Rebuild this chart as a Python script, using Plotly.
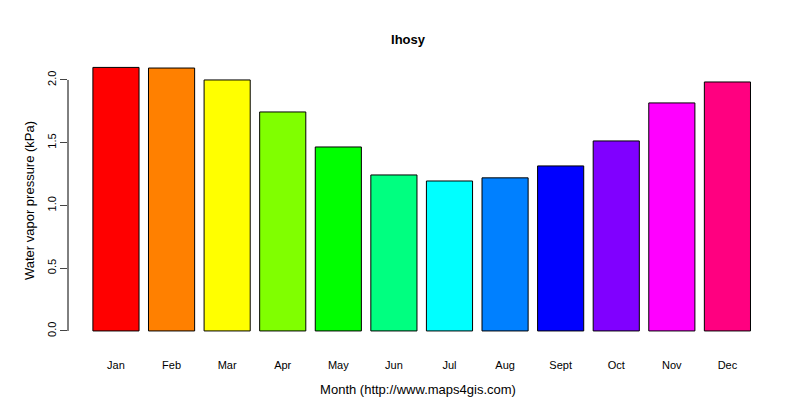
import plotly.graph_objects as go

months = ["Jan", "Feb", "Mar", "Apr", "May", "Jun", "Jul", "Aug", "Sept", "Oct", "Nov", "Dec"]
vapor = [2.10, 2.095, 2.00, 1.745, 1.466, 1.243, 1.195, 1.22, 1.315, 1.514, 1.817, 1.984]
colors = ["#FF0000", "#FF8000", "#FFFF00", "#80FF00", "#00FF00", "#00FF80",
          "#00FFFF", "#0080FF", "#0000FF", "#8000FF", "#FF00FF", "#FF0080"]
y_ticks = [0.0, 0.5, 1.0, 1.5, 2.0]

fig = go.Figure(go.Bar(
    x=list(range(len(months))), y=vapor, width=0.83,
    marker=dict(color=colors, line=dict(color="black", width=1)),
))

fig.update_layout(
    width=800, height=400,
    margin=dict(l=60, r=40, t=50, b=65, autoexpand=False),
    plot_bgcolor="white", paper_bgcolor="white",
    font=dict(family="Liberation Sans, Arial", size=11, color="black"),
    title=dict(text="<b>Ihosy</b>", x=0.5, xanchor="center", y=1 - 31 / 400, yanchor="middle",
               font=dict(size=13)),
    showlegend=False,
)
fig.update_xaxes(
    range=[-0.863, 11.73], tickvals=list(range(len(months))), ticktext=months,
    showgrid=False, zeroline=False, showline=False, ticks="", ticklabelstandoff=14,
    automargin=False,
    title=dict(text="Month (http://www.maps4gis.com)", standoff=14),
)
fig.update_yaxes(
    range=[-0.096, 2.175], tickvals=y_ticks, ticktext=[f"{v:.1f}" for v in y_ticks],
    tickangle=-90, ticks="outside", ticklen=7, showgrid=False, zeroline=False, showline=False,
    automargin=False,
    title=dict(text="Water vapor pressure (kPa)", standoff=8),
)
fig.add_shape(type="line", xref="paper", yref="y", x0=0, x1=0, y0=0, y1=2.0,
              line=dict(color="black", width=1))

fig.write_html("out.html")
